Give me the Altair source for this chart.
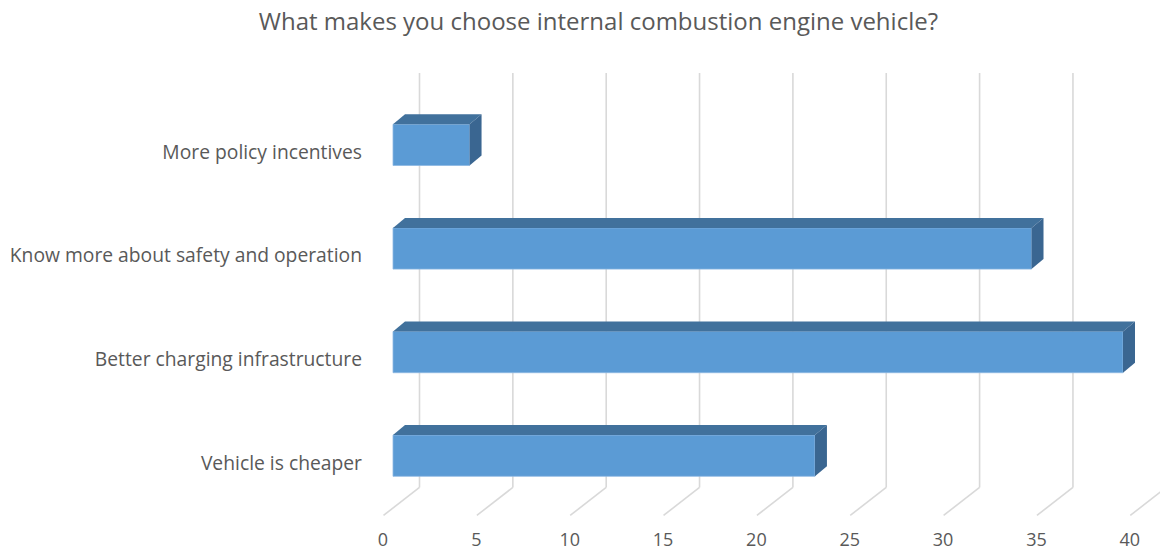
import altair as alt
import pandas as pd

# Survey answers (share of respondents)
categories = [
    "More policy incentives",
    "Know more about safety and operation",
    "Better charging  infrastructure",
    "Vehicle is cheaper",
]
values = [4.1, 34.2, 39.1, 22.6]
tick_values = [0, 5, 10, 15, 20, 25, 30, 35, 40]

TITLE = "What makes you choose internal combustion engine vehicle?"
FONT = "Open Sans"
TEXT_COLOR = "#595959"
FRONT = "#5B9BD5"
TOP = "#41719C"
SIDE = "#3A6691"
GRID = "#D9D9D9"

# Pseudo-3D geometry: x in value units, y in row units (one row per category)
PX = 18.67            # pixels per value unit
ROW = 103.6           # pixels per row
W = 40 * PX
H = 4 * ROW
FACE_TOP, FACE_BOT = 0.495, 0.893   # front face extent inside a row
DX, DY = 12 / PX, 10 / ROW          # bar depth offset
WALL = 26.5 / PX                    # back wall offset from bar front plane
FLOOR_DX, FLOOR_DY = 36 / PX, 28 / ROW

rows = list(range(len(categories)))
bars = pd.DataFrame({"cat": categories, "row": rows, "v": values})
bars["x0"] = 0.0
bars["yt"] = bars["row"] + FACE_TOP
bars["yb"] = bars["row"] + FACE_BOT

top_pts, side_pts = [], []
for c, r, v in zip(categories, rows, values):
    yt, yb = r + FACE_TOP, r + FACE_BOT
    top_pts += [
        {"cat": c, "x": 0.0, "y": yt, "y2": yt},
        {"cat": c, "x": DX, "y": yt, "y2": yt - DY},
        {"cat": c, "x": v, "y": yt, "y2": yt - DY},
        {"cat": c, "x": v + DX, "y": yt - DY, "y2": yt - DY},
    ]
    side_pts += [
        {"cat": c, "x": v, "y": yb, "y2": yt},
        {"cat": c, "x": v + DX, "y": yb - DY, "y2": yt - DY},
    ]
top_df = pd.DataFrame(top_pts)
side_df = pd.DataFrame(side_pts)

grid = pd.DataFrame({"t": tick_values})
grid["xw"] = grid["t"] + WALL
grid["xf"] = grid["xw"] - FLOOR_DX
grid["ytop"] = 0.0
grid["yfloor"] = 4.0
grid["yfront"] = 4.0 + FLOOR_DY

xs = alt.Scale(domain=[0, 40], nice=False, zero=False)
ys = alt.Scale(domain=[0, 4], reverse=True, nice=False, zero=False)

wall_lines = alt.Chart(grid).mark_rule(color=GRID, strokeWidth=1.6).encode(
    x=alt.X("xw:Q", scale=xs, axis=None),
    y=alt.Y("ytop:Q", scale=ys, axis=None),
    y2="yfloor:Q",
)
floor_lines = alt.Chart(grid).mark_rule(color=GRID, strokeWidth=1.6).encode(
    x=alt.X("xw:Q", scale=xs, axis=None),
    x2="xf:Q",
    y=alt.Y("yfloor:Q", scale=ys, axis=None),
    y2="yfront:Q",
)

front = alt.Chart(bars).mark_rect(color=FRONT, stroke="#8DB8E2", strokeWidth=0.8).encode(
    x=alt.X("x0:Q", scale=xs, axis=None),
    x2="v:Q",
    y=alt.Y("yt:Q", scale=ys, axis=None),
    y2="yb:Q",
)
top = alt.Chart(top_df).mark_area(color=TOP, orient="vertical").encode(
    x=alt.X("x:Q", scale=xs, axis=None),
    y=alt.Y("y:Q", scale=ys, axis=None),
    y2="y2:Q",
    detail="cat:N",
)
side = alt.Chart(side_df).mark_area(color=SIDE, orient="vertical").encode(
    x=alt.X("x:Q", scale=xs, axis=None),
    y=alt.Y("y:Q", scale=ys, axis=None),
    y2="y2:Q",
    detail="cat:N",
)

# Value labels along the front edge of the floor
tick_df = pd.DataFrame({"t": tick_values})
tick_df["xl"] = tick_df["t"] - 10 / PX
tick_df["yl"] = 4.0 + 54 / ROW
tick_labels = alt.Chart(tick_df).mark_text(
    font=FONT, fontSize=18, color=TEXT_COLOR, align="center", baseline="middle"
).encode(
    x=alt.X("xl:Q", scale=xs, axis=None),
    y=alt.Y("yl:Q", scale=ys, axis=None),
    text="t:Q",
)

cat_df = pd.DataFrame({"cat": categories, "row": rows})
cat_df["xl"] = -31 / PX
cat_df["yl"] = cat_df["row"] + 0.77
cat_labels = alt.Chart(cat_df).mark_text(
    font=FONT, fontSize=19.3, color=TEXT_COLOR, align="right", baseline="middle"
).encode(
    x=alt.X("xl:Q", scale=xs, axis=None),
    y=alt.Y("yl:Q", scale=ys, axis=None),
    text="cat:N",
)

chart = (
    alt.layer(wall_lines, floor_lines, front, top, side, tick_labels, cat_labels)
    .properties(
        width=W,
        height=H,
        background="white",
        autosize=alt.AutoSizeParams(type="none"),
        padding={"left": 393, "top": 73, "right": 1160 - 393 - W, "bottom": 551 - 73 - H},
        title=alt.TitleParams(
            TITLE, font=FONT, fontSize=24, fontWeight="normal", color=TEXT_COLOR,
            anchor="middle", dx=-168, offset=37,
        ),
    )
    .configure_view(strokeWidth=0, stroke="transparent")
)

chart.save("out.html", embed_options={"renderer": "svg", "actions": False})
